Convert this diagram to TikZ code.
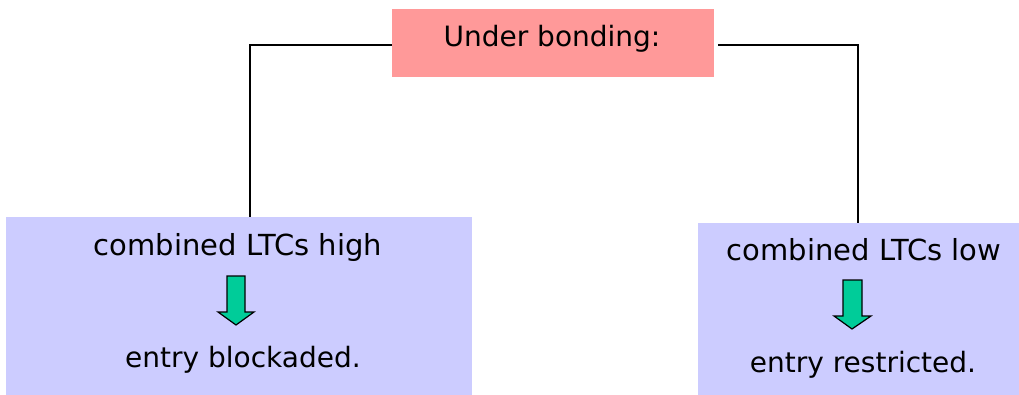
\documentclass[tikz,border=0pt]{standalone}
\usepackage{fontspec}
\setmainfont{DejaVu Sans}
\begin{document}
\begin{tikzpicture}[x=1pt,y=-1pt,
  topbox/.style={fill=topfill,draw=none,inner sep=0pt,minimum width=322pt,minimum height=68pt},
  lowbox/.style={fill=lowfill,draw=none,inner sep=0pt},
  toplbl/.style={inner sep=0pt,font=\fontsize{28}{33}\selectfont,anchor=base},
  lbl/.style={inner sep=0pt,font=\fontsize{29}{34}\selectfont,anchor=base},
  lbltwo/.style={inner sep=0pt,font=\fontsize{28}{33}\selectfont,anchor=base},
  conn/.style={draw=black,line width=1.3pt},
  downarrow/.style={fill=arrowfill,draw=black,line width=1.2pt,line join=miter}]
\definecolor{topfill}{HTML}{FF9999}
\definecolor{lowfill}{HTML}{CCCCFF}
\definecolor{arrowfill}{HTML}{00CC99}
\useasboundingbox (0,0) rectangle (1019,395);
\node[topbox] (top) at (553,43) {};
\node[toplbl] (toptext) at (552,47) {Under bonding:};
\node[lowbox,minimum width=466pt,minimum height=178pt] (left) at (239,306) {};
\node[lowbox,minimum width=332pt,minimum height=172pt] (right) at (864,309) {};
\coordinate (lc) at (250,45);
\coordinate (rc) at (858,45);
\coordinate (rs) at (718,45);
\draw[conn] (top.west |- lc) -- (lc) -- (lc |- left.north);
\draw[conn] (rs) -- (rc) -- (rc |- right.north);
\node[lbl] (lt1) at (238,255) {combined LTCs high};
\node[lbltwo] (lt2) at (243,367) {entry blockaded.};
\node[lbl] (rt1) at (864,260) {combined LTCs low};
\node[lbltwo] (rt2) at (863,372) {entry restricted.};
\draw[downarrow] (227,276) -- (245,276) -- (245,312) -- (254,312) -- (236,325) -- (218,312) -- (227,312) -- cycle;
\draw[downarrow] (843,280) -- (862,280) -- (862,316) -- (871,316) -- (852,329) -- (834,316) -- (843,316) -- cycle;
\end{tikzpicture}
\end{document}
